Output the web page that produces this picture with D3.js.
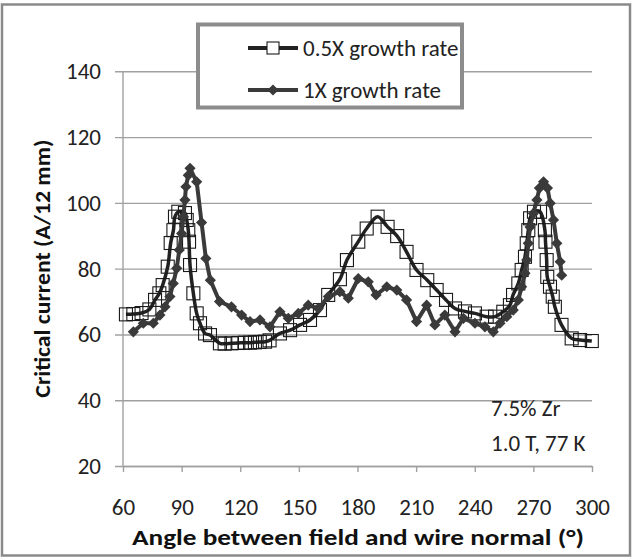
<!DOCTYPE html>
<html><head><meta charset="utf-8">
<script src="https://cdn.jsdelivr.net/npm/d3@7"></script>
<style>html,body{margin:0;padding:0;background:#fff;}svg{display:block;}</style>
</head><body>
<svg id="chart" width="633" height="558"></svg>
<script>
// ---- data ----
const xTicks = [60, 90, 120, 150, 180, 210, 240, 270, 300];
const yTicks = [20, 40, 60, 80, 100, 120, 140];
const seriesNames = ["0.5X growth rate", "1X growth rate"];

const halfAngle = [61.5,65.3,69.5,73.5,76.4,78.6,80.3,82.9,84.4,85.8,86.6,88.3,91.7,92.6,93.4,93.8,94.3,96,97.7,99.4,102,104.5,109.6,112,115.5,119,122.4,125,127.5,130,132.7,135,140.3,145.5,150.6,155.7,160.8,165,171,174.6,180.4,184.7,190.3,195.4,200.3,205.1,210.2,215.7,220.5,225.3,229.9,235,240.1,246.1,250.4,254.6,258,259.6,262.3,264,265.7,266.6,267.4,268.3,270.3,273.4,275.9,276.2,276.8,277.1,278.5,279.9,281,284.4,289.6,293.9,299.9];
const halfIc = [66.1,66.2,66.5,67.6,70.5,72.5,75,80.6,87.8,91.7,95.8,97.3,96.9,94.8,91.7,88.2,81.1,72.5,66.4,63.4,60.3,59.8,57.3,57.2,57.3,57.4,57.5,57.5,57.6,57.7,57.8,58.2,60.3,61.3,62.9,64.4,67.4,72,76.8,82.6,88.2,92.2,95.8,92.7,89.9,85.1,79.6,76.5,73.5,70.5,67.9,67,66.4,65.4,65.4,66.9,68.9,72,75.5,79.6,83.6,87.7,91.7,95.3,97.3,97.3,91.7,88.2,82.6,77.5,74.5,71.5,68.4,62.9,58.8,58.3,58];

const oneAngle = [65.3,70.4,75.5,78.9,81.5,84,85.7,87.5,88.8,90,90.9,91.7,92.2,93.4,94.3,97.7,100.2,102.4,104.7,109.4,115.5,120.7,125,130.1,135.2,140.3,144.6,149.7,154.8,159.9,165.1,171,175.3,180.4,185.5,189.5,195,200.1,205.1,210.2,215.4,219.6,224.7,229.9,234.2,240.1,245.2,249.5,252.9,256.4,259.7,262.3,264,265.7,266.6,267.4,268.3,270,271.8,273.1,275.2,277.2,278.6,280.3,282,283.7,284.5];
const oneIc = [60.8,63.4,63.4,65.9,68.4,71.5,75.5,80.1,85.7,90.7,95.8,100.9,104.9,108.4,110.5,106.4,94,83.1,76.5,70,68.4,65.9,63.9,64.4,62.3,66.9,64.9,66.4,68.9,67.9,71.5,73,71,77,76,72,74.5,73.5,70.5,63.9,68.9,62.9,65.9,60.8,64.9,63.4,62.3,60.8,63.4,65.4,67.4,70.5,74.5,78.6,82.6,87.7,92.7,96.8,100.9,104.5,106.4,104.5,99.9,94.8,87.7,82.1,78];

const annotation = ["7.5% Zr", "1.0 T, 77 K"];
const xTitle = "Angle between field and wire normal (°)";
const yTitle = "Critical current (A/12 mm)";

// ---- layout ----
const FONT = "Carlito, Calibri, Lato, 'Open Sans', sans-serif";
const TFONT = "Carlito, Calibri, 'Open Sans', Lato, sans-serif";
const svg = d3.select("#chart");
const pL = 123, pR = 592, pT = 71.3, pB = 466;
const x = d3.scaleLinear().domain([60, 300]).range([pL, pR]);
const y = d3.scaleLinear().domain([20, 140]).range([pB, pT]);

// outer border
svg.append("rect").attr("x", 2).attr("y", 4.5).attr("width", 628).attr("height", 551)
  .attr("fill", "#fff").attr("stroke", "#8a8a8a").attr("stroke-width", 2.5);

// gridlines + y axis
const gy = svg.append("g").attr("transform", `translate(${pL},0)`)
  .call(d3.axisLeft(y).tickValues(yTicks).tickSize(-(pR - pL)).tickSizeOuter(0).tickPadding(22));
gy.select(".domain").remove();
gy.selectAll(".tick line").attr("stroke", "#a0a0a0").attr("stroke-width", 1.4).attr("x1", -8);
gy.selectAll(".tick text").attr("font-family", FONT).attr("font-size", 23).attr("fill", "#222");
svg.append("line").attr("x1", pL).attr("x2", pL).attr("y1", pT).attr("y2", pB)
  .attr("stroke", "#a0a0a0").attr("stroke-width", 1.4);

// x axis
const gx = svg.append("g").attr("transform", `translate(0,${pB})`)
  .call(d3.axisBottom(x).tickValues(xTicks).tickSize(6).tickSizeOuter(0).tickPadding(27));
gx.select(".domain").attr("stroke", "#a0a0a0").attr("stroke-width", 1.4);
gx.selectAll(".tick line").attr("stroke", "#a0a0a0").attr("stroke-width", 1.4);
gx.selectAll(".tick text").attr("font-family", FONT).attr("font-size", 23).attr("fill", "#222");

// axis titles
svg.append("text").attr("x", 358).attr("y", 545).attr("text-anchor", "middle")
  .attr("font-family", TFONT).attr("font-size", 22).attr("font-weight", 600).attr("fill", "#111")
  .attr("textLength", 452).attr("lengthAdjust", "spacingAndGlyphs").text(xTitle);
svg.append("text").attr("transform", `translate(50,${(pT + pB) / 2}) rotate(-90)`).attr("text-anchor", "middle")
  .attr("font-family", TFONT).attr("font-size", 22).attr("font-weight", 600).attr("fill", "#111")
  .attr("textLength", 258).attr("lengthAdjust", "spacingAndGlyphs").text(yTitle);

// series
const halfData = halfAngle.map((a, i) => [a, halfIc[i]]);
const oneData = oneAngle.map((a, i) => [a, oneIc[i]]);
const lineSmooth = d3.line().x(d => x(d[0])).y(d => y(d[1])).curve(d3.curveCatmullRom.alpha(0.5));
const lineStraight = d3.line().x(d => x(d[0])).y(d => y(d[1]));

svg.append("path").attr("d", lineSmooth(halfData)).attr("fill", "none")
  .attr("stroke", "#222").attr("stroke-width", 3.5).attr("stroke-linejoin", "round");
const sq = 13;
svg.append("g").selectAll("rect").data(halfData).join("rect")
  .attr("x", d => x(d[0]) - sq / 2).attr("y", d => y(d[1]) - sq / 2)
  .attr("width", sq).attr("height", sq).attr("fill", "none")
  .attr("stroke", "#1a1a1a").attr("stroke-width", 1.1);

svg.append("path").attr("d", lineStraight(oneData)).attr("fill", "none")
  .attr("stroke", "#3a3a3a").attr("stroke-width", 4).attr("stroke-linejoin", "round");
const diamond = d3.symbol().type(d3.symbolDiamond2).size(80);
svg.append("g").selectAll("path").data(oneData).join("path")
  .attr("transform", d => `translate(${x(d[0])},${y(d[1])})`)
  .attr("d", diamond).attr("fill", "#3a3a3a");

// legend
const lg = svg.append("g");
lg.append("rect").attr("x", 198).attr("y", 24.5).attr("width", 264).attr("height", 83)
  .attr("fill", "#fff").attr("stroke", "#8c8c8c").attr("stroke-width", 4);
const rows = [48, 90];
rows.forEach((ry, i) => {
  lg.append("line").attr("x1", 248).attr("x2", 298).attr("y1", ry).attr("y2", ry)
    .attr("stroke", i === 0 ? "#222" : "#3a3a3a").attr("stroke-width", 4);
  if (i === 0) {
    lg.append("rect").attr("x", 273 - 6).attr("y", ry - 6).attr("width", 12).attr("height", 12)
      .attr("fill", "#fff").attr("stroke", "#1a1a1a").attr("stroke-width", 1.1);
  } else {
    lg.append("path").attr("transform", `translate(273,${ry})`).attr("d", diamond).attr("fill", "#3a3a3a");
  }
  lg.append("text").attr("x", 303).attr("y", ry + 8).attr("font-family", FONT).attr("font-size", 23)
    .attr("fill", "#222").text(seriesNames[i]);
});

// annotation
annotation.forEach((t, i) => {
  svg.append("text").attr("x", 491).attr("y", 416 + i * 35).attr("font-family", FONT)
    .attr("font-size", 23).attr("fill", "#222").text(t);
});
</script>
</body></html>
